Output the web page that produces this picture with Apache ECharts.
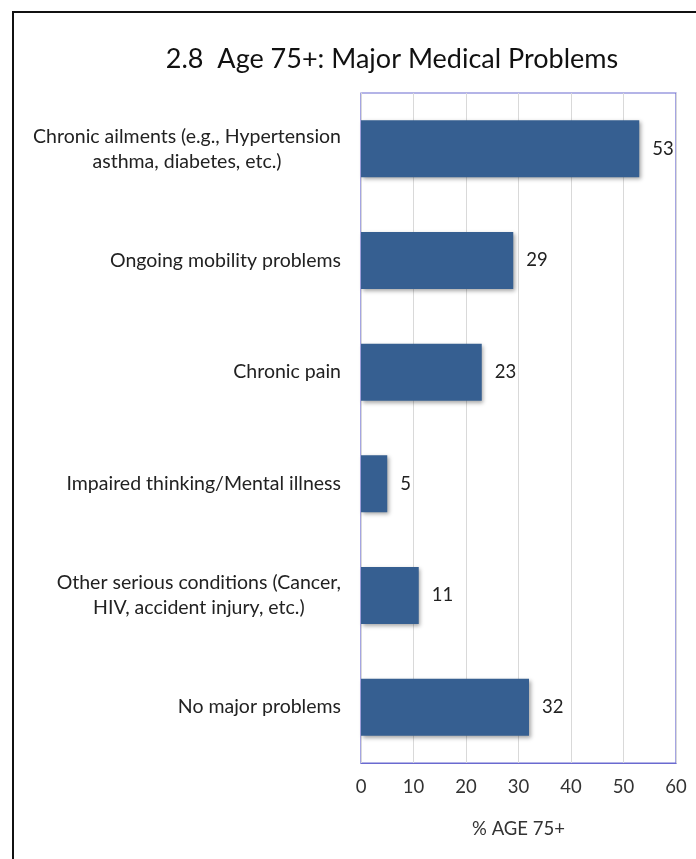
<!DOCTYPE html>
<html>
<head>
<meta charset="utf-8">
<script src="https://cdn.jsdelivr.net/npm/echarts@6/dist/echarts.min.js"></script>
<style>
html,body{margin:0;padding:0;background:#fff;}
#frame{position:absolute;left:12px;top:11px;width:700px;height:860px;border-left:2px solid #111;border-top:2px solid #111;}
#chart{position:absolute;left:0;top:0;width:696px;height:859px;}
</style>
</head>
<body>
<div id="frame"></div>
<div id="chart"></div>
<script>
const titleText = '2.8  Age 75+: Major Medical Problems';
const categories = [
  'Chronic ailments (e.g., Hypertension\nasthma, diabetes, etc.)',
  'Ongoing mobility problems',
  'Chronic pain',
  'Impaired thinking/Mental illness',
  'Other serious conditions (Cancer,\nHIV, accident injury, etc.)',
  'No major problems'
];
const values = [53, 29, 23, 5, 11, 32];
const xTicks = [0, 10, 20, 30, 40, 50, 60];
const axisName = '% AGE 75+';

const FONT = 'Lato';
const chart = echarts.init(document.getElementById('chart'), null, {renderer: 'canvas'});
chart.setOption({
  animation: false,
  backgroundColor: 'transparent',
  title: {
    text: titleText,
    left: 387, top: 41, textAlign: 'center',
    textStyle: {fontFamily: FONT, fontSize: 27, fontWeight: 'normal', color: '#111'}
  },
  grid: {
    left: 361, right: 20, top: 93, bottom: 96,
    show: true, borderColor: '#6a6ad0', borderWidth: 1.2, backgroundColor: 'transparent'
  },
  xAxis: {
    type: 'value', min: xTicks[0], max: xTicks[xTicks.length - 1], interval: 10,
    name: axisName, nameLocation: 'middle', nameGap: 57,
    nameTextStyle: {fontFamily: FONT, fontSize: 18.5, color: '#333'},
    axisLine: {show: true, lineStyle: {color: '#6a6ad0', width: 1.2}},
    axisTick: {show: false},
    axisLabel: {fontFamily: FONT, fontSize: 18.5, color: '#333', margin: 15},
    splitLine: {show: true, lineStyle: {color: '#d9d9d9', width: 1}}
  },
  yAxis: {
    type: 'category', data: categories, inverse: true,
    axisLine: {show: true, lineStyle: {color: '#d9d9d9', width: 1}},
    axisTick: {show: false},
    axisLabel: {
      fontFamily: FONT, fontSize: 19.5, color: '#222', margin: 20, lineHeight: 25,
      formatter: function (v) {
        return v.split('\n').map(function (s) { return '{c|' + s + '}'; }).join('\n');
      },
      rich: {c: {align: 'center', fontFamily: FONT, fontSize: 19.5, color: '#222', lineHeight: 25}}
    }
  },
  series: [{
    type: 'bar', data: values, barCategoryGap: '49%',
    itemStyle: {
      color: '#365f91',
      shadowColor: 'rgba(0,0,0,0.35)', shadowBlur: 4, shadowOffsetX: 1.5, shadowOffsetY: 2
    },
    label: {
      show: true, position: 'right', distance: 13,
      fontFamily: FONT, fontSize: 18.5, color: '#222'
    }
  }]
});
</script>
</body>
</html>
